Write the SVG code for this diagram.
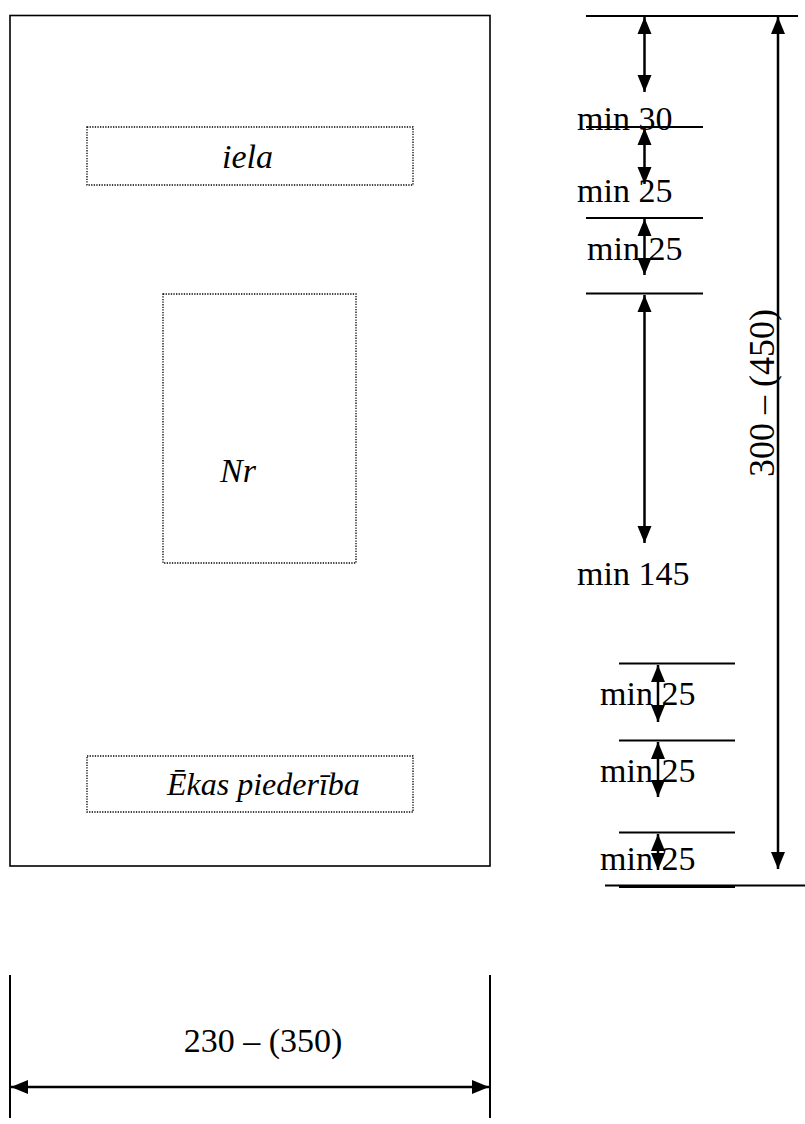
<svg xmlns="http://www.w3.org/2000/svg" width="805" height="1124" viewBox="0 0 805 1124">
<style>
.t{font-family:"Liberation Serif","Times New Roman",serif;font-size:34px;fill:#000}
.i{font-style:italic}
.dot{fill:none;stroke:#000;stroke-width:1.3;stroke-dasharray:1.3 1.3}
.ln{stroke:#000;stroke-width:2;fill:none}
.ar{stroke:#000;stroke-width:2.5;fill:none;marker-start:url(#ah);marker-end:url(#ah)}
</style>
<defs>
<marker id="ah" markerUnits="userSpaceOnUse" markerWidth="17" markerHeight="16" viewBox="0 0 17 16" refX="17" refY="8" orient="auto-start-reverse">
<path d="M0,1 L17,8 L0,15 Z" fill="#000"/>
</marker>
</defs>
<rect width="805" height="1124" fill="#fff"/>
<g id="frame"><rect x="10" y="15.5" width="480" height="850.5" fill="none" stroke="#000" stroke-width="1.6"/></g>
<g id="iela"><rect class="dot" x="87" y="127" width="326" height="58"/><text class="t i" x="222" y="168">iela</text></g>
<g id="nr"><rect class="dot" x="163" y="294" width="193" height="269"/><text class="t i" x="220" y="482">Nr</text></g>
<g id="ekas"><rect class="dot" x="87" y="756" width="326" height="56"/><text class="t i" x="167" y="795" style="font-size:32px">Ēkas piederība</text></g>
<g id="extension-lines">
<line class="ln" x1="586" y1="16" x2="798" y2="16"/>
<line class="ln" x1="586" y1="127" x2="703" y2="127"/>
<line class="ln" x1="586" y1="218" x2="703" y2="218"/>
<line class="ln" x1="586" y1="293.5" x2="703" y2="293.5"/>
<line class="ln" x1="619" y1="663.5" x2="735" y2="663.5"/>
<line class="ln" x1="619" y1="740.5" x2="735" y2="740.5"/>
<line class="ln" x1="619" y1="832.5" x2="735" y2="832.5"/>
<line class="ln" x1="605" y1="885.5" x2="805" y2="885.5"/>
<line class="ln" x1="619" y1="887" x2="735" y2="887" stroke-width="2.5"/>
<line class="ln" x1="10" y1="975" x2="10" y2="1118" stroke-width="1.6"/>
<line class="ln" x1="490" y1="975" x2="490" y2="1118" stroke-width="1.6"/>
</g>
<g id="connectors">
<line class="ar" x1="644.5" y1="17" x2="644.5" y2="92"/>
<line class="ar" x1="644.5" y1="128" x2="644.5" y2="184"/>
<line class="ar" x1="644.5" y1="219" x2="644.5" y2="275"/>
<line class="ar" x1="644.5" y1="295" x2="644.5" y2="543"/>
<line class="ar" x1="658" y1="665" x2="658" y2="722"/>
<line class="ar" x1="658" y1="742" x2="658" y2="797"/>
<line class="ar" x1="658" y1="834" x2="658" y2="870"/>
<line class="ar" x1="778" y1="17" x2="778" y2="869"/>
<line class="ar" x1="11" y1="1087" x2="489" y2="1087"/>
</g>
<g id="labels">
<text class="t" x="577" y="130">min 30</text>
<text class="t" x="577" y="202">min 25</text>
<text class="t" x="587" y="260">min 25</text>
<text class="t" x="577" y="585">min 145</text>
<text class="t" x="600" y="705">min 25</text>
<text class="t" x="600" y="782">min 25</text>
<text class="t" x="600" y="870">min 25</text>
<text class="t" x="774" y="393" text-anchor="middle" transform="rotate(-90 774 393)" style="font-size:36px">300 – (450)</text>
<text class="t" x="263" y="1052" text-anchor="middle">230 – (350)</text>
</g>
</svg>
